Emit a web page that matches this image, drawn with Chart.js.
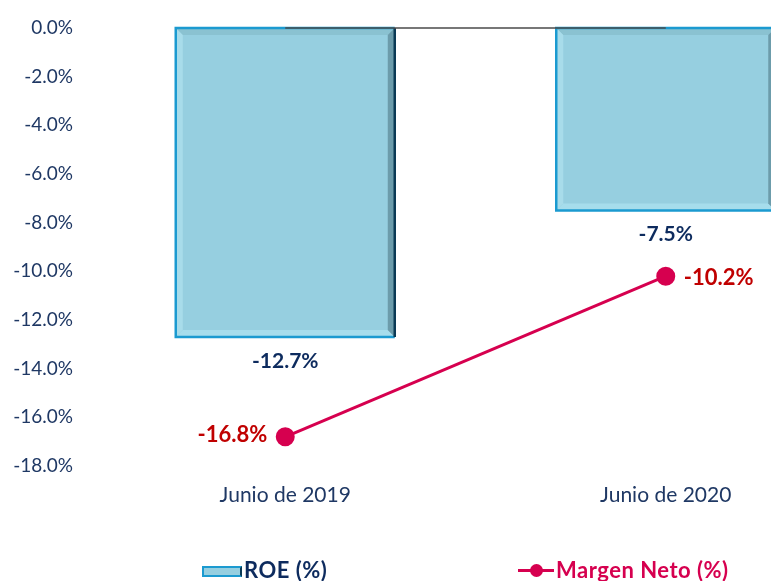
<!DOCTYPE html>
<html>
<head>
<meta charset="utf-8">
<script src="https://cdn.jsdelivr.net/npm/chart.js"></script>
<style>
  body { margin: 0; background: #fff; font-family: Lato, "Open Sans", sans-serif; }
  .wrap { position: relative; width: 771px; height: 581px; overflow: hidden; }
  canvas { position: absolute; left: 0; top: 0; }
  .legend { position: absolute; top: 556px; font-weight: bold; font-size: 22px; white-space: nowrap; letter-spacing: 0.5px; }
  .leg-roe { left: 202px; color: #0D2B5E; }
  .leg-mn { left: 518px; color: #D6004F; }
  .box { display: inline-block; width: 40px; height: 11px; vertical-align: 1px; margin-right: 2px;
         background: #96CFE0; border: 2px solid #1B9AD0; border-right-color: #0B3A55; box-sizing: border-box; }
  .ln { display: inline-block; position: relative; width: 36px; height: 3px; background: #D6004F; vertical-align: 6px; margin-right: 2px; }
  .ln i { position: absolute; left: 12px; top: -5px; width: 13px; height: 13px; border-radius: 50%; background: #D6004F; }
</style>
</head>
<body>
<div class="wrap">
  <canvas id="chart" width="867" height="581"></canvas>
  <div class="legend leg-roe"><span class="box"></span>ROE (%)</div>
  <div class="legend leg-mn"><span class="ln"><i></i></span>Margen Neto (%)</div>
</div>

<script>
// ==========================
// DATA
// ==========================
const categories = ["Junio de 2019", "Junio de 2020"];
const roeValues = [-12.7, -7.5];
const margenValues = [-16.8, -10.2];

const NAVY = "#0D2B5E";
const TICK = "#1F3864";
const CRIMSON = "#D6004F";
const DARKRED = "#C00000";

// bevelled look for the bars
const bevelPlugin = {
  id: "bevel",
  afterDatasetDraw(chart, args) {
    if (args.index !== 0) return;
    const ctx = chart.ctx;
    const b = 7;
    args.meta.data.forEach((bar) => {
      const l = bar.x - bar.width / 2, r = bar.x + bar.width / 2;
      const t = Math.min(bar.y, bar.base), btm = Math.max(bar.y, bar.base);
      const poly = (pts, col) => {
        ctx.fillStyle = col;
        ctx.beginPath();
        pts.forEach((p, i) => (i ? ctx.lineTo(p[0], p[1]) : ctx.moveTo(p[0], p[1])));
        ctx.closePath();
        ctx.fill();
      };
      ctx.save();
      poly([[l, t], [r, t], [r - b, t + b], [l + b, t + b]], "#8AC2D1");
      poly([[l, t], [l + b, t + b], [l + b, btm - b], [l, btm]], "#A8DCEA");
      poly([[l, btm], [l + b, btm - b], [r - b, btm - b], [r, btm]], "#A6DDEC");
      poly([[r, t], [r, btm], [r - b, btm - b], [r - b, t + b]], "#6C9CAB");
      ctx.lineWidth = 2.5;
      ctx.strokeStyle = "#1B9AD0";
      ctx.beginPath();
      ctx.moveTo(r, btm); ctx.lineTo(l, btm); ctx.lineTo(l, t); ctx.lineTo(r, t);
      ctx.stroke();
      ctx.strokeStyle = "#0B3A55";
      ctx.beginPath();
      ctx.moveTo(r, t); ctx.lineTo(r, btm);
      ctx.stroke();
      ctx.restore();
    });
  },
};

// zero line between category centres, drawn over the bars
const zeroLinePlugin = {
  id: "zeroLine",
  afterDatasetDraw(chart, args) {
    if (args.index !== 0) return;
    const { ctx, scales: { x, y } } = chart;
    const y0 = y.getPixelForValue(0);
    ctx.save();
    ctx.strokeStyle = "#4A4A4A";
    ctx.lineWidth = 1.5;
    ctx.beginPath();
    ctx.moveTo(x.getPixelForTick(0), y0);
    ctx.lineTo(x.getPixelForTick(categories.length - 1), y0);
    ctx.stroke();
    ctx.restore();
  },
};

const labelPlugin = {
  id: "labels",
  afterDatasetsDraw(chart) {
    const ctx = chart.ctx;
    ctx.save();
    ctx.textBaseline = "middle";
    ctx.font = "bold 21px Lato, sans-serif";
    chart.getDatasetMeta(0).data.forEach((bar, i) => {
      ctx.fillStyle = NAVY;
      ctx.textAlign = "center";
      ctx.fillText(roeValues[i].toFixed(1) + "%", bar.x, bar.y + 24);
    });
    ctx.font = "bold 22px Lato, sans-serif";
    chart.getDatasetMeta(1).data.forEach((pt, i) => {
      ctx.fillStyle = DARKRED;
      if (i === 0) {
        ctx.textAlign = "right";
        ctx.fillText(margenValues[i].toFixed(1) + "%", pt.x - 18, pt.y - 2);
      } else {
        ctx.textAlign = "left";
        ctx.fillText(margenValues[i].toFixed(1) + "%", pt.x + 18, pt.y + 2);
      }
    });
    ctx.restore();
  },
};

new Chart(document.getElementById("chart"), {
  data: {
    labels: categories,
    datasets: [
      {
        type: "bar",
        label: "ROE (%)",
        data: roeValues,
        backgroundColor: "#96CFE0",
        borderWidth: 0,
        barThickness: 219,
        order: 1,
      },
      {
        type: "line",
        label: "Margen Neto (%)",
        data: margenValues,
        borderColor: CRIMSON,
        backgroundColor: CRIMSON,
        borderWidth: 3,
        pointRadius: 8,
        pointHoverRadius: 8,
        order: 0,
      },
    ],
  },
  options: {
    responsive: false,
    animation: false,
    layout: { padding: { top: 28, right: 5, left: 0, bottom: 0 } },
    plugins: {
      legend: { display: false },
      tooltip: { enabled: false },
    },
    scales: {
      x: {
        offset: true,
        grid: { display: false, drawTicks: false },
        border: { display: false },
        ticks: { color: TICK, font: { family: "Lato", size: 21 }, padding: 17 },
        afterFit(scale) { scale.height = 115; },
      },
      y: {
        min: -18,
        max: 0,
        grid: { display: false, drawTicks: false },
        border: { display: false },
        ticks: {
          stepSize: 2,
          color: TICK,
          font: { family: "Lato", size: 19 },
          padding: 22,
          callback: (v) => v.toFixed(1) + "%",
        },
        afterFit(scale) {
          scale.width = 95;
          scale.paddingTop = 12;
          scale.paddingBottom = 12;
        },
      },
    },
  },
  plugins: [bevelPlugin, zeroLinePlugin, labelPlugin],
});
</script>
</body>
</html>
